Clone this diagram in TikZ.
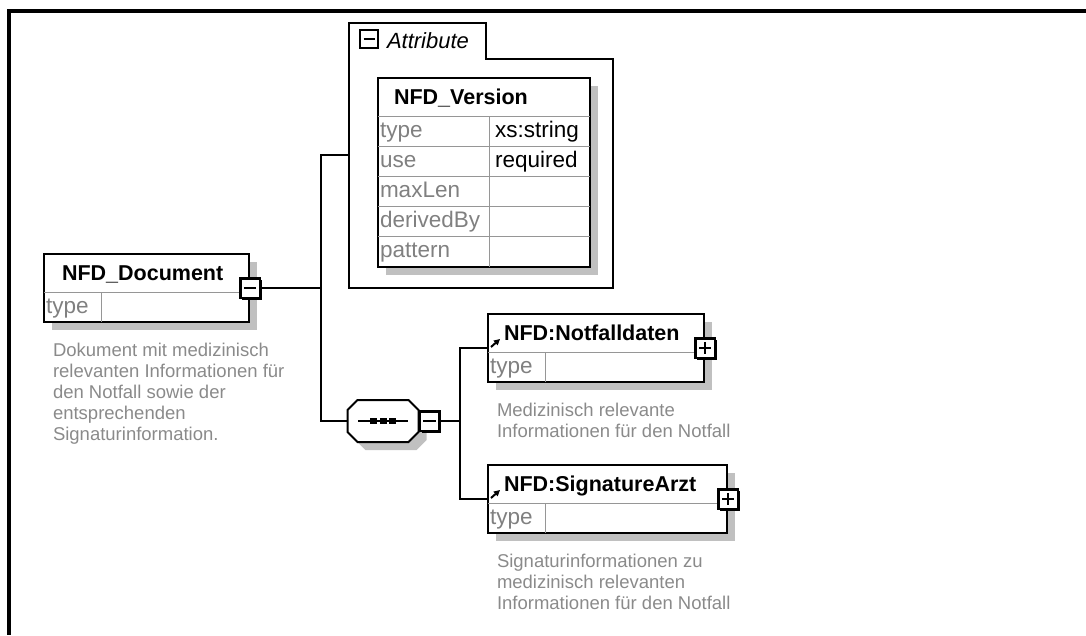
\documentclass[tikz,border=0pt]{standalone}
\usepackage{fontspec}
\setmainfont{Liberation Sans}
\usetikzlibrary{arrows.meta,positioning,calc,shadows}

\definecolor{labelgray}{RGB}{128,128,128}
\definecolor{descgray}{RGB}{138,138,138}
\definecolor{shadowgray}{RGB}{192,192,192}
\definecolor{rulegray}{RGB}{150,150,150}

\tikzset{
  elem/.style={draw,fill=white,anchor=north west,inner sep=0pt,
    drop shadow={shadow xshift=8pt,shadow yshift=-8pt,fill=shadowgray,opacity=1}},
  elemtitle/.style={anchor=base west,inner sep=0pt,font=\fontsize{21.5}{24}\selectfont\bfseries},
  cell/.style={anchor=base west,inner sep=0pt,font=\fontsize{22.5}{25}\selectfont},
  keycell/.style={cell,text=labelgray},
  note/.style={anchor=north west,inner sep=0pt,align=left,text=descgray,
    font=\fontsize{18.5}{21}\selectfont},
  rowrule/.style={draw=rulegray,line width=1pt},
  expander/.style={draw,line width=2.5pt,fill=white,minimum size=19.5pt,inner sep=0pt},
  raised/.style={drop shadow={shadow xshift=2pt,shadow yshift=-2pt,fill=black,opacity=1}},
  minusbox/.style={expander,path picture={
      \draw[line width=1.3pt] ($(path picture bounding box.west)+(3.5pt,0pt)$)
        -- ($(path picture bounding box.east)+(-3.5pt,0pt)$);}},
  plusbox/.style={expander,path picture={
      \draw[line width=1.3pt] ($(path picture bounding box.west)+(3.5pt,0pt)$)
        -- ($(path picture bounding box.east)+(-3.5pt,0pt)$);
      \draw[line width=1.3pt] ($(path picture bounding box.north)+(0pt,-3.5pt)$)
        -- ($(path picture bounding box.south)+(0pt,3.5pt)$);}},
  refarrow/.style={-{Triangle[length=6pt,width=6pt]},line width=2pt},
  seqshape/.style={insert path={
      ($(seq.north west)+(10+#1,#1)$) -- ($(seq.north east)+(-10+#1,#1)$)
      -- ($(seq.north east)+(#1,10+#1)$) -- ($(seq.south east)+(#1,-10+#1)$)
      -- ($(seq.south east)+(-10+#1,#1)$) -- ($(seq.south west)+(10+#1,#1)$)
      -- ($(seq.south west)+(#1,-10+#1)$) -- ($(seq.north west)+(#1,10+#1)$) -- cycle}}
}

\begin{document}
\begin{tikzpicture}[x=1pt,y=-1pt,line width=2pt]
\useasboundingbox (0,0) rectangle (1086,635);
\draw[line width=3.5pt] (1086,11) -- (9,11) -- (9,635);

% attribute group
\draw (349,23) -- (486,23) -- (486,59) -- (613,59) -- (613,288) -- (349,288) -- cycle;
\node[minusbox,minimum size=18pt] (attrminus) at (369,39) {};
\node[anchor=base west,inner sep=0pt,font=\fontsize{22}{24}\selectfont\itshape] (attrname) at (386,48) {Attribute};
\coordinate (attrin) at (349,155);

% NFD_Version
\node[elem,minimum width=212pt,minimum height=189pt] (ver) at (377,77) {};
\foreach \r in {39,69,99,129,159}
  \draw[rowrule] ($(ver.north west)+(1,\r)$) -- ($(ver.north east)+(-1,\r)$);
\draw[rowrule] ($(ver.north west)+(112,39)$) -- ($(ver.south west)+(112,-1)$);
\node[elemtitle] (vername) at ($(ver.north west)+(16,27.5)$) {NFD\_Version};
\foreach \k [count=\i] in {type,use,maxLen,derivedBy,pattern}
  \node[keycell] (verkey\i) at ($(ver.north west)+(2,30.5+30*\i)$) {\k};
\node[cell] (vertype) at ($(ver.north west)+(117,60.5)$) {xs:string};
\node[cell] (veruse) at ($(ver.north west)+(117,90.5)$) {required};

% NFD_Document
\node[elem,minimum width=205pt,minimum height=68pt] (doc) at (43,253) {};
\draw[rowrule] ($(doc.north west)+(1,39)$) -- ($(doc.north east)+(-1,39)$);
\draw[rowrule] ($(doc.north west)+(58,39)$) -- ($(doc.south west)+(58,-1)$);
\node[elemtitle] (docname) at ($(doc.north west)+(18,27.5)$) {NFD\_Document};
\node[keycell] (doctype) at ($(doc.north west)+(2,60)$) {type};
\node[note] (docnote) at ($(doc.south west)+(9,19)$) {Dokument mit medizinisch\\relevanten Informationen für\\den Notfall sowie der\\entsprechenden\\Signaturinformation.};
\node[minusbox,raised] (docminus) at (doc.east) {};

% sequence
\node[minimum width=69pt,minimum height=40pt,inner sep=0pt] (seq) at (383,421) {};
\fill[shadowgray,seqshape=8];
\draw[fill=white,seqshape=0];
\draw ($(seq.center)+(-25,0)$) -- ($(seq.center)+(25,0)$);
\foreach \dx in {-9.5,0,9.5}
  \fill ($(seq.center)+(\dx-3.5,-3)$) rectangle ($(seq.center)+(\dx+3.5,3)$);
\node[minusbox,raised,anchor=west] (seqminus) at (seq.east) {};

% NFD:Notfalldaten
\node[elem,minimum width=216pt,minimum height=68pt] (nfd) at (487,313) {};
\draw[rowrule] ($(nfd.north west)+(1,39)$) -- ($(nfd.north east)+(-1,39)$);
\draw[rowrule] ($(nfd.north west)+(58,39)$) -- ($(nfd.south west)+(58,-1)$);
\node[elemtitle] (nfdname) at ($(nfd.north west)+(16,27.5)$) {NFD:Notfalldaten};
\draw[refarrow] ($(nfd.north west)+(4,34)$) -- ($(nfd.north west)+(13,26)$);
\node[keycell] (nfdtype) at ($(nfd.north west)+(2,60)$) {type};
\node[note] (nfdnote) at ($(nfd.south west)+(9,19)$) {Medizinisch relevante\\Informationen für den Notfall};
\node[plusbox,raised] (nfdplus) at (nfd.east) {};

% NFD:SignatureArzt
\node[elem,minimum width=239pt,minimum height=68pt] (sig) at (487,464) {};
\draw[rowrule] ($(sig.north west)+(1,39)$) -- ($(sig.north east)+(-1,39)$);
\draw[rowrule] ($(sig.north west)+(58,39)$) -- ($(sig.south west)+(58,-1)$);
\node[elemtitle] (signame) at ($(sig.north west)+(16,27.5)$) {NFD:SignatureArzt};
\draw[refarrow] ($(sig.north west)+(4,34)$) -- ($(sig.north west)+(13,26)$);
\node[keycell] (sigtype) at ($(sig.north west)+(2,60)$) {type};
\node[note] (signote) at ($(sig.south west)+(9,19)$) {Signaturinformationen zu\\medizinisch relevanten\\Informationen für den Notfall};
\node[plusbox,raised] (sigplus) at (sig.east) {};

% connectors
\coordinate (jdoc) at ($(docminus.center)+(71,0)$);
\coordinate (jseq) at ($(seqminus.center)+(30,0)$);
\draw (docminus.east) -- (jdoc);
\draw (attrin) -| (jdoc) |- (seq.west);
\draw (seqminus.east) -- (jseq);
\draw (nfd.west) -| (jseq) |- (sig.west);
\end{tikzpicture}
\end{document}
